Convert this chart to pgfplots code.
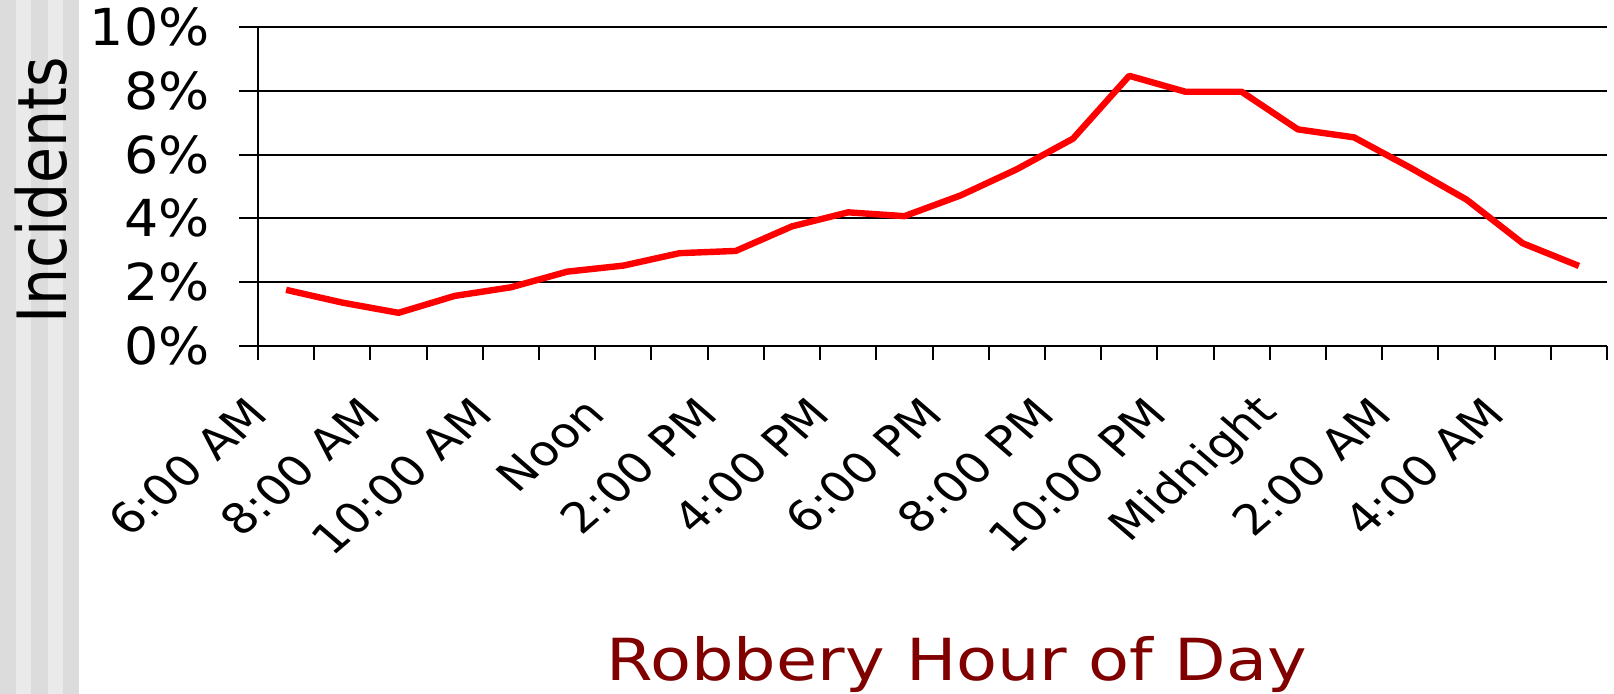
\documentclass[border=0pt]{standalone}
\usepackage{fontspec}
\setmainfont{DejaVu Sans}
\usepackage{graphicx}
\usepackage{pgfplots}
\pgfplotsset{compat=1.18}
\definecolor{stripeA}{HTML}{DCDCDC}
\definecolor{stripeB}{HTML}{EAEAEA}
\definecolor{maroon}{HTML}{800000}
\begin{document}
\begin{tikzpicture}
\useasboundingbox (0,0) rectangle (807pt,347pt);
\fill[white] (0,0) rectangle (807pt,347pt);
\fill[stripeA] (0,0) rectangle (8pt,347pt);
\fill[stripeB] (8pt,0) rectangle (15.5pt,347pt);
\fill[stripeA] (15.5pt,0) rectangle (24pt,347pt);
\fill[stripeB] (24pt,0) rectangle (31.5pt,347pt);
\fill[stripeA] (31.5pt,0) rectangle (39.5pt,347pt);
\begin{axis}[
  at={(129pt,174pt)}, anchor=south west,
  scale only axis, width=674.5pt, height=159.5pt,
  xmin=0.5, xmax=24.5, ymin=0, ymax=10,
  axis x line*=bottom, axis y line*=left,
  axis line style={line width=1pt, -},
  tick align=outside,
  ytick={0,2,4,6,8,10},
  yticklabels={0\%,2\%,4\%,6\%,8\%,10\%},
  major tick length=9.5pt,
  minor tick length=7pt,
  ytick style={line width=1pt, black},
  xtick={1,3,5,7,9,11,13,15,17,19,21,23},
  xticklabels={6:00 AM,8:00 AM,10:00 AM,Noon,2:00 PM,4:00 PM,6:00 PM,8:00 PM,10:00 PM,Midnight,2:00 AM,4:00 AM},
  minor xtick={0.5,1.5,...,24.5},
  xtick style={draw=none},
  minor x tick style={draw=black, line width=1pt},
  ymajorgrids,
  major grid style={line width=1pt, black},
  yticklabel style={font=\fontsize{25.5}{30}\selectfont, xshift=-14.5pt, xscale=1.056, anchor=east, inner sep=0pt},
  xticklabel style={font=\fontsize{21}{25}\selectfont, xshift=-14pt, yshift=-20.4pt, xscale=1.155, rotate=45, anchor=east, inner sep=0pt},
  ylabel={\scalebox{0.86}[1]{Incidents}},
  ylabel style={font=\fontsize{34}{40}\selectfont, at={(axis description cs:-0.161,0.489)}, anchor=center, inner sep=0pt},
  xlabel={\scalebox{1.155}[1]{Robbery Hour of Day}},
  xlabel style={font=\fontsize{29}{34}\selectfont, text=maroon, at={(axis description cs:0.518,-1.05)}, anchor=base, inner sep=0pt},
  clip=false,
]
\addplot[color=red, line width=3.2pt, line join=round] coordinates {
(1,1.76) (2,1.36) (3,1.04) (4,1.57) (5,1.84) (6,2.33) (7,2.52) (8,2.91)
(9,2.98) (10,3.75) (11,4.19) (12,4.07) (13,4.72) (14,5.54) (15,6.50) (16,8.47)
(17,7.97) (18,7.97) (19,6.79) (20,6.54) (21,5.59) (22,4.59) (23,3.22) (24,2.51)
};
\end{axis}
\end{tikzpicture}
\end{document}
